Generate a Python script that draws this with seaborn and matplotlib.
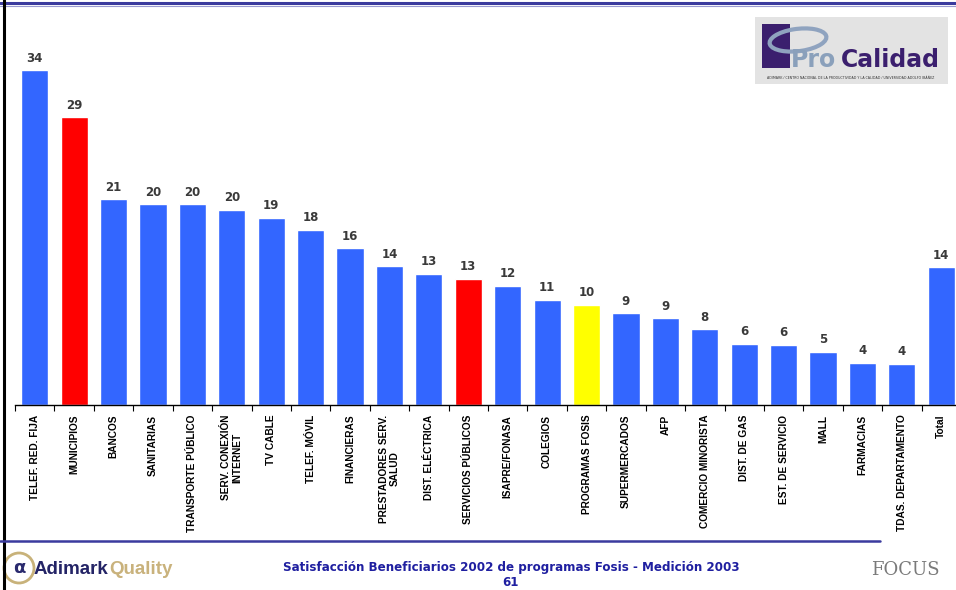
import matplotlib
matplotlib.use("Agg")
import matplotlib.pyplot as plt
import seaborn as sns
import pandas as pd
from matplotlib.patches import Rectangle, Ellipse
from matplotlib.lines import Line2D
from matplotlib.ticker import FixedLocator

categories = ["TELEF. RED. FIJA", "MUNICIPIOS", "BANCOS", "SANITARIAS",
              "TRANSPORTE PÚBLICO", "SERV. CONEXIÓN\nINTERNET", "TV CABLE",
              "TELEF. MÓVIL", "FINANCIERAS", "PRESTADORES SERV.\nSALUD",
              "DIST. ELÉCTRICA", "SERVICIOS PÚBLICOS", "ISAPRE/FONASA",
              "COLEGIOS", "PROGRAMAS FOSIS", "SUPERMERCADOS", "AFP",
              "COMERCIO MINORISTA", "DIST. DE GAS", "EST. DE SERVICIO", "MALL",
              "FARMACIAS", "TDAS. DEPARTAMENTO", "Total"]
values = [34.0, 29.2, 20.9, 20.4, 20.4, 19.8, 19.0, 17.8, 15.9, 14.1, 13.3,
          12.8, 12.1, 10.7, 10.2, 9.3, 8.8, 7.7, 6.2, 6.1, 5.4, 4.3, 4.2, 14.0]
value_labels = ["34", "29", "21", "20", "20", "20", "19", "18", "16", "14", "13",
                "13", "12", "11", "10", "9", "9", "8", "6", "6", "5", "4", "4", "14"]
bar_colors = ["#3366FF", "#FF0000", "#3366FF", "#3366FF", "#3366FF", "#3366FF",
              "#3366FF", "#3366FF", "#3366FF", "#3366FF", "#3366FF", "#FF0000",
              "#3366FF", "#3366FF", "#FFFF00", "#3366FF", "#3366FF", "#3366FF",
              "#3366FF", "#3366FF", "#3366FF", "#3366FF", "#3366FF", "#3366FF"]
footer_title = "Satisfacción Beneficiarios 2002 de programas Fosis - Medición 2003"
page_number = "61"

sns.set_theme(style="white")
plt.rcParams['font.family'] = ['DejaVu Sans']

df = pd.DataFrame({"cat": categories, "val": values})

W, H = 956, 590
fig = plt.figure(figsize=(W / 100, H / 100), dpi=100)
fig.patch.set_facecolor("white")

left_px, right_px = 15, 961
base_px, top_px = 405, 11
ax = fig.add_axes([left_px / W, (H - base_px) / H,
                   (right_px - left_px) / W, (base_px - top_px) / H])
ax.set_facecolor("none")

sns.barplot(data=df, x="cat", y="val", hue="cat", palette=bar_colors,
            legend=False, width=0.69, saturation=1, ax=ax)

ax.set_xlim(-0.5, len(categories) - 0.5)
ax.set_ylim(0, 40)
ax.set_xlabel("")
ax.set_ylabel("")
ax.set_yticks([])
for s in ["top", "right", "left"]:
    ax.spines[s].set_visible(False)
ax.spines["bottom"].set_color("black")
ax.spines["bottom"].set_linewidth(1.0)

ax.set_xticks(range(len(categories)))
ax.set_xticklabels(categories, rotation=90, fontsize=7.3, fontweight="bold",
                   family="Liberation Sans", color="black", linespacing=1.15)
ax.tick_params(axis="x", which="major", length=0, pad=7)
ax.xaxis.set_minor_locator(FixedLocator([i - 0.5 for i in range(len(categories) + 1)]))
ax.tick_params(axis="x", which="minor", length=4, width=0.8, color="black",
               direction="out", bottom=True)

for i, c in enumerate(ax.containers):
    ax.bar_label(c, labels=[value_labels[i]], padding=4, fontsize=8.5,
                 fontweight="bold", color="#3a3a3a")

# page frame lines
fig.add_artist(Line2D([0, 1], [1 - 3 / H, 1 - 3 / H], color="#3b3b9e", lw=2.2))
fig.add_artist(Line2D([0, 1], [1 - 5.5 / H, 1 - 5.5 / H], color="#9a9ad0", lw=0.8))
fig.add_artist(Line2D([3.5 / W, 3.5 / W], [0, 1], color="black", lw=2.2))
fig.add_artist(Line2D([0, 880 / W], [1 - 541 / H, 1 - 541 / H], color="#3b3b9e", lw=1.8))

# footer text
fig.text(511 / W, 1 - 567 / H, footer_title, ha="center", va="center",
         fontsize=8.6, fontweight="bold", color="#1f1fa0")
fig.text(511 / W, 1 - 582 / H, page_number, ha="center", va="center",
         fontsize=8.6, fontweight="bold", color="#1f1fa0")

# ProCalidad logo box
fig.add_artist(Rectangle((755 / W, 1 - 84 / H), 193 / W, 67 / H,
                         transform=fig.transFigure, facecolor="#e3e3e3",
                         edgecolor="none"))
fig.add_artist(Rectangle((762 / W, 1 - 68 / H), 28 / W, 44 / H,
                         transform=fig.transFigure, facecolor="#3b1f6e",
                         edgecolor="none"))
fig.add_artist(Ellipse((798 / W, 1 - 40 / H), 58 / W, 22 / H, angle=15,
                       transform=fig.transFigure, facecolor="none",
                       edgecolor="#8fa3bf", lw=3))
fig.text(791 / W, 1 - 60 / H, "Pro", fontsize=17, fontweight="bold",
         color="#8aa0bb", va="center", ha="left")
fig.text(841 / W, 1 - 60 / H, "Calidad", fontsize=17, fontweight="bold",
         color="#3b1f6e", va="center", ha="left")
fig.text(851 / W, 1 - 78 / H,
         "ADIMARK / CENTRO NACIONAL DE LA PRODUCTIVIDAD Y LA CALIDAD / UNIVERSIDAD ADOLFO IBÁÑEZ",
         fontsize=2.3, color="#333333", ha="center", va="center")

# Adimark Quality logo
fig.add_artist(Ellipse((19 / W, 1 - 568 / H), 30 / W, 30 / H,
                       transform=fig.transFigure, facecolor="none",
                       edgecolor="#c8b27a", lw=2))
fig.text(19 / W, 1 - 568 / H, "α", fontsize=13, fontweight="bold",
         color="#2a2a6e", ha="center", va="center")
t1 = fig.text(34 / W, 1 - 570 / H, "Adimark", fontsize=13.5, fontweight="bold",
              family="Liberation Sans", color="#242466", ha="left", va="center")
renderer = fig.canvas.get_renderer()
bb = t1.get_window_extent(renderer=renderer)
fig.text((bb.x1 + 1) / W, 1 - 570 / H, "Quality", fontsize=13.5, fontweight="bold",
         family="Liberation Sans", color="#c9b27c", ha="left", va="center")

# FOCUS logo
fig.text(905 / W, 1 - 570 / H, "FOCUS", fontsize=13, family="DejaVu Serif",
         color="#7a7a7a", ha="center", va="center")

fig.savefig("out.png", dpi=100)
